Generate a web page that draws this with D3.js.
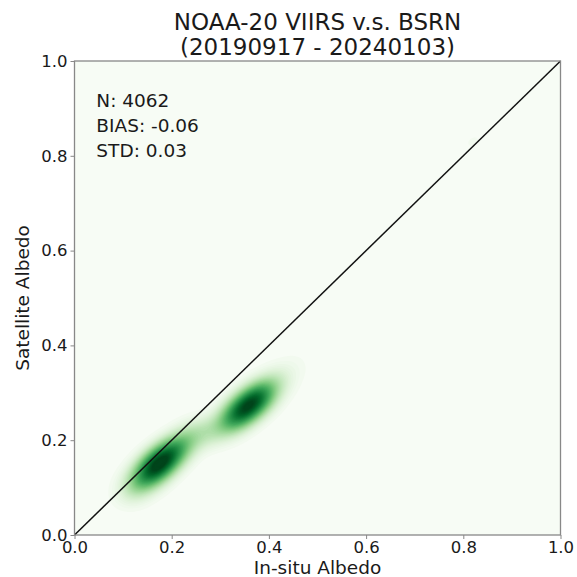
<!DOCTYPE html>
<html>
<head>
<meta charset="utf-8">
<script src="https://cdn.jsdelivr.net/npm/d3@7"></script>
<style>
  html, body { margin: 0; padding: 0; background: #ffffff; }
  svg { display: block; font-family: "DejaVu Sans", sans-serif; }
</style>
</head>
<body>
<div id="chart"></div>
<script>
// ---- data ----
const titleLines = ["NOAA-20 VIIRS v.s. BSRN", "(20190917 - 20240103)"];
const statLines = ["N: 4062", "BIAS: -0.06", "STD: 0.03"];
const xLabel = "In-situ Albedo";
const yLabel = "Satellite Albedo";
const tickValues = [0.0, 0.2, 0.4, 0.6, 0.8, 1.0];

// representative (weighted) sample locations of the match-up cloud
const insituAlbedo = [
  0.095, 0.105, 0.115, 0.125, 0.135, 0.145, 0.155, 0.165, 0.175, 0.185, 0.195, 0.205, 0.215, 0.225, 0.235, 0.245,
  0.12, 0.14, 0.16, 0.18,
  0.26, 0.275, 0.29,
  0.305, 0.315, 0.325, 0.335, 0.345, 0.355, 0.365, 0.375, 0.385, 0.395, 0.405, 0.415, 0.425, 0.435, 0.45, 0.465,
  0.80, 0.82, 0.84];
const satelliteAlbedo = [
  0.082, 0.091, 0.099, 0.108, 0.116, 0.126, 0.135, 0.143, 0.152, 0.160, 0.169, 0.177, 0.186, 0.194, 0.203, 0.211,
  0.085, 0.103, 0.12, 0.138,
  0.214, 0.218, 0.222,
  0.228, 0.236, 0.245, 0.253, 0.262, 0.270, 0.279, 0.287, 0.296, 0.304, 0.313, 0.321, 0.330, 0.338, 0.351, 0.364,
  0.815, 0.83, 0.845];
const matchCounts = [
  0.4, 0.8, 1.6, 3, 4.5, 6.5, 8.5, 9.5, 10, 10, 9, 7.5, 5.5, 4, 3.2, 2.8,
  1.2, 1.8, 2, 1.5,
  2.6, 2.6, 2.8,
  3.2, 4.5, 6.5, 8.2, 9.5, 10, 10, 9, 7.5, 5.5, 3.5, 2.2, 1.4, 0.9, 0.5, 0.3,
  0.3, 0.4, 0.3];

// ---- layout ----
const W = 577, H = 577;
const plot = { left: 74.5, right: 560.5, top: 61, bottom: 535 };
const pw = plot.right - plot.left, ph = plot.bottom - plot.top;

const svg = d3.select("#chart").append("svg").attr("width", W).attr("height", H);

const x = d3.scaleLinear().domain([0, 1]).range([0, pw]);
const y = d3.scaleLinear().domain([0, 1]).range([ph, 0]);

const g = svg.append("g").attr("transform", `translate(${plot.left},${plot.top})`);

svg.append("defs").append("clipPath").attr("id", "clip")
  .append("rect").attr("width", pw).attr("height", ph);

const points = insituAlbedo.map((v, i) => ({ x: v, y: satelliteAlbedo[i], w: matchCounts[i] }));

// background = lowest level of the Greens map
g.append("rect").attr("width", pw).attr("height", ph).attr("fill", d3.interpolateGreens(0));

const density = d3.contourDensity()
  .x(d => x(d.x)).y(d => y(d.y)).weight(d => d.w)
  .size([pw, ph]).cellSize(2).bandwidth(9.5);
const contourFn = density.contours(points);
const maxD = contourFn.max;
const nLevels = 60;
const levels = d3.range(1, nLevels).map(i => maxD * i / nLevels);
const color = d3.scaleSequentialPow(d3.interpolateGreens).exponent(0.85).domain([0, maxD * 0.92]);

g.append("g").attr("clip-path", "url(#clip)")
  .selectAll("path").data(levels).join("path")
  .attr("d", t => d3.geoPath()(contourFn(t)))
  .attr("fill", t => color(t))
  .attr("stroke", "none");

// 1:1 line
g.append("line")
  .attr("x1", x(0)).attr("y1", y(0)).attr("x2", x(1)).attr("y2", y(1))
  .attr("stroke", "#111").attr("stroke-width", 1.5);

// axes
const xAxis = d3.axisBottom(x).tickValues(tickValues).tickFormat(d3.format(".1f")).tickSize(4).tickPadding(2);
const yAxis = d3.axisLeft(y).tickValues(tickValues).tickFormat(d3.format(".1f")).tickSize(4).tickPadding(3);

const gx = g.append("g").attr("transform", `translate(0,${ph})`).call(xAxis);
const gy = g.append("g").call(yAxis);
[gx, gy].forEach(a => {
  a.select(".domain").remove();
  a.selectAll(".tick line").attr("stroke", "#888").attr("stroke-width", 1);
  a.selectAll(".tick text").attr("fill", "#1a1a1a").style("font-size", "16.5px").style("font-family", "DejaVu Sans");
});

// frame
g.append("rect").attr("width", pw).attr("height", ph)
  .attr("fill", "none").attr("stroke", "#888").attr("stroke-width", 1.3);

// stats text
const stats = g.append("text").attr("fill", "#1a1a1a").style("font-size", "18.5px");
statLines.forEach((s, i) => {
  stats.append("tspan").attr("x", x(0.045)).attr("y", 46 + i * 25).text(s);
});

// title
const cx = plot.left + pw / 2;
titleLines.forEach((s, i) => {
  svg.append("text").attr("x", cx).attr("y", 30 + i * 25)
    .attr("text-anchor", "middle").attr("fill", "#1a1a1a")
    .style("font-size", "23px").text(s);
});

// axis labels
svg.append("text").attr("x", cx).attr("y", 574)
  .attr("text-anchor", "middle").attr("fill", "#1a1a1a").style("font-size", "18.5px").text(xLabel);
svg.append("text")
  .attr("transform", `translate(29,${plot.top + ph / 2}) rotate(-90)`)
  .attr("text-anchor", "middle").attr("fill", "#1a1a1a").style("font-size", "18.5px").text(yLabel);
</script>
</body>
</html>
